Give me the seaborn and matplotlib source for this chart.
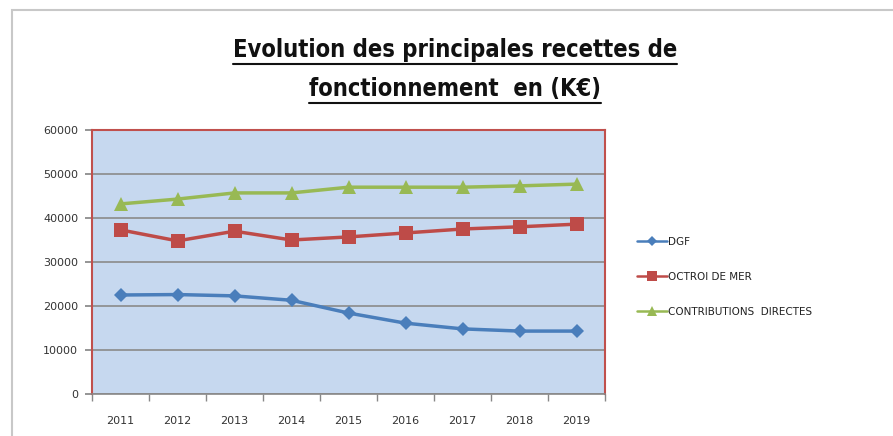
import pandas as pd
import matplotlib.pyplot as plt
import matplotlib.patches as mpatches
import matplotlib.lines as mlines
import seaborn as sns

# data
years = [2011, 2012, 2013, 2014, 2015, 2016, 2017, 2018, 2019]
dgf = [22500, 22600, 22300, 21300, 18400, 16100, 14800, 14300, 14300]
octroi = [37300, 34800, 37000, 35000, 35700, 36600, 37500, 38000, 38600]
contributions = [43200, 44300, 45700, 45700, 47000, 47000, 47000, 47300, 47700]
series_names = ['DGF', 'OCTROI DE MER', 'CONTRIBUTIONS  DIRECTES']

df = pd.DataFrame({
    'annee': years * 3,
    'valeur': dgf + octroi + contributions,
    'serie': [series_names[0]] * 9 + [series_names[1]] * 9 + [series_names[2]] * 9,
})

sns.set_theme(style='white')
plt.rcParams['font.family'] = ['DejaVu Sans']

fig = plt.figure(figsize=(8.93, 4.36), dpi=100)
fig.patch.set_facecolor('white')

# outer chart frame
fig.patches.append(mpatches.Rectangle((12 / 893, -0.01), 1.0, (436 - 10) / 436 + 0.01,
                                      transform=fig.transFigure, fill=False,
                                      edgecolor='#C8C8C8', linewidth=1.5))

ax = fig.add_axes([92 / 893, 1 - 394 / 436, (605 - 92) / 893, (394 - 130) / 436])
ax.set_facecolor('#C6D8EF')

palette = {series_names[0]: '#4A7EBB', series_names[1]: '#BE4B48', series_names[2]: '#98B954'}
markers = {series_names[0]: 'D', series_names[1]: 's', series_names[2]: '^'}
sizes = {series_names[0]: 7, series_names[1]: 10, series_names[2]: 10}

for name in series_names:
    sub = df[df['serie'] == name]
    sns.lineplot(data=sub, x='annee', y='valeur', ax=ax, color=palette[name],
                 marker=markers[name], markersize=sizes[name], markeredgewidth=0,
                 linewidth=2.5, label=name, legend=False)

ax.set_xlim(2010.5, 2019.5)
ax.set_ylim(0, 60000)
ax.set_yticks(range(0, 60001, 10000))
ax.set_yticklabels(['0', '10000', '20000', '30000', '40000', '50000', '60000'])
ax.set_xticks(years)
ax.set_xticklabels([str(y) for y in years])
ax.set_xticks([y - 0.5 for y in years] + [2019.5], minor=True)
ax.tick_params(axis='x', which='major', length=0, pad=16, labelsize=8, colors='#333333')
ax.tick_params(axis='x', which='minor', length=5, color='#888888', bottom=True)
ax.tick_params(axis='y', length=5, color='#888888', left=True, pad=5, labelsize=8, colors='#333333')
ax.grid(axis='y', color='#8A8A8A', linewidth=1.2)
ax.set_axisbelow(True)
ax.set_xlabel('')
ax.set_ylabel('')

for side in ['left', 'top', 'right']:
    ax.spines[side].set_color('#C0504D')
    ax.spines[side].set_linewidth(1.5)
ax.spines['bottom'].set_color('#888888')
ax.spines['bottom'].set_linewidth(1.2)

# legend
handles = [mlines.Line2D([], [], color=palette[n], marker=markers[n],
                         markersize=sizes[n] * 0.7, markeredgewidth=0, linewidth=1.8)
           for n in series_names]
fig.legend(handles, series_names, loc='center left', bbox_to_anchor=(628 / 893, 1 - 277 / 436),
           frameon=False, fontsize=7.5, handlelength=2.8, handletextpad=0.1,
           labelspacing=2.4, labelcolor='#222222')

# title, underlined
title_lines = ['Evolution des principales recettes de', 'fonctionnement  en (K€)']
title_y = [1 - 50 / 436, 1 - 89 / 436]
fig.canvas.draw()
renderer = fig.canvas.get_renderer()
for line, yy in zip(title_lines, title_y):
    t = fig.text(455 / 893, yy, line, ha='center', va='center', fontsize=17,
                 fontweight='bold', color='#111111', family=['DejaVu Sans'],
                 fontstretch='condensed')
    bb = t.get_window_extent(renderer=renderer).transformed(fig.transFigure.inverted())
    fig.lines.append(mlines.Line2D([bb.x0, bb.x1], [bb.y0 - 0.004, bb.y0 - 0.004],
                                   transform=fig.transFigure, color='#111111', linewidth=1.5))

fig.savefig('out.png', dpi=100)
